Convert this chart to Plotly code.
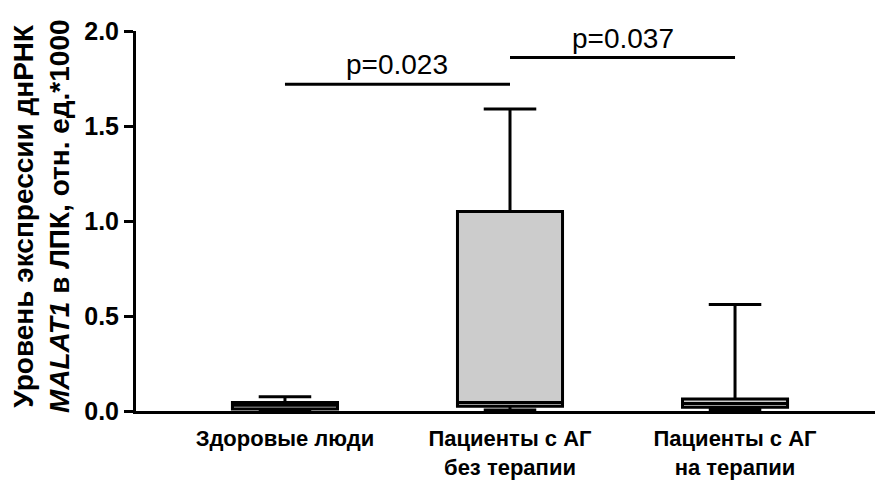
import plotly.graph_objects as go

categories = ["Здоровые люди", "Пациенты с АГ<br>без терапии", "Пациенты с АГ<br>на терапии"]
lower_fence = [0.0, 0.005, 0.005]
q1_vals = [0.01, 0.025, 0.02]
median_vals = [0.03, 0.045, 0.04]
q3_vals = [0.045, 1.05, 0.063]
upper_fence = [0.075, 1.59, 0.56]

comparisons = [
    (0, 1, 1.72, "p=0.023"),
    (1, 2, 1.86, "p=0.037"),
]

y_ticks = [0.0, 0.5, 1.0, 1.5, 2.0]

fig = go.Figure()
fig.add_trace(go.Box(
    x=categories,
    q1=q1_vals,
    median=median_vals,
    q3=q3_vals,
    lowerfence=lower_fence,
    upperfence=upper_fence,
    fillcolor="#cccccc",
    line=dict(color="black", width=3),
    whiskerwidth=0.5,
    boxpoints=False,
    showlegend=False,
    hoverinfo="skip",
))

font_family = "Liberation Sans, Arial, sans-serif"

for i0, i1, yv, label in comparisons:
    fig.add_shape(type="line", xref="x", yref="y",
                  x0=categories[i0], x1=categories[i1], y0=yv, y1=yv,
                  line=dict(color="black", width=3))
    fig.add_annotation(x=(i0 + i1) / 2, y=yv, xref="x", yref="y",
                       text=label, showarrow=False,
                       yanchor="bottom", yshift=2,
                       font=dict(family=font_family, size=28, color="black"))

fig.add_annotation(
    xref="paper", yref="paper", x=-0.1286, y=0.513,
    text="<b>Уровень экспрессии днРНК<br><i>MALAT1</i> в ЛПК, отн. ед.*1000</b>",
    textangle=-90, showarrow=False, xanchor="center", yanchor="middle",
    font=dict(family=font_family, size=28, color="black"),
)

fig.update_layout(
    width=875, height=482,
    margin=dict(l=136, r=0, t=31, b=71),
    plot_bgcolor="white", paper_bgcolor="white",
    boxgap=0.333,
    font=dict(family=font_family, color="black"),
)
fig.update_xaxes(
    type="category",
    range=[-0.662, 2.622],
    automargin=False,
    showline=True, linecolor="black", linewidth=3,
    showgrid=False, zeroline=False,
    ticks="outside", ticklen=6, tickcolor="rgba(0,0,0,0)",
    tickfont=dict(family=font_family, size=22, color="black", weight="bold"),
)
fig.update_yaxes(
    range=[0, 2],
    automargin=False,
    tickvals=y_ticks,
    ticktext=[f"<b>{v:.1f}</b>" for v in y_ticks],
    showline=True, linecolor="black", linewidth=3,
    showgrid=False, zeroline=False,
    ticks="outside", ticklen=9, tickwidth=3, tickcolor="black",
    tickfont=dict(family=font_family, size=25, color="black"),
)

fig.write_html("out.html", config={"displayModeBar": False},
               post_script="document.body.style.margin='0';")
